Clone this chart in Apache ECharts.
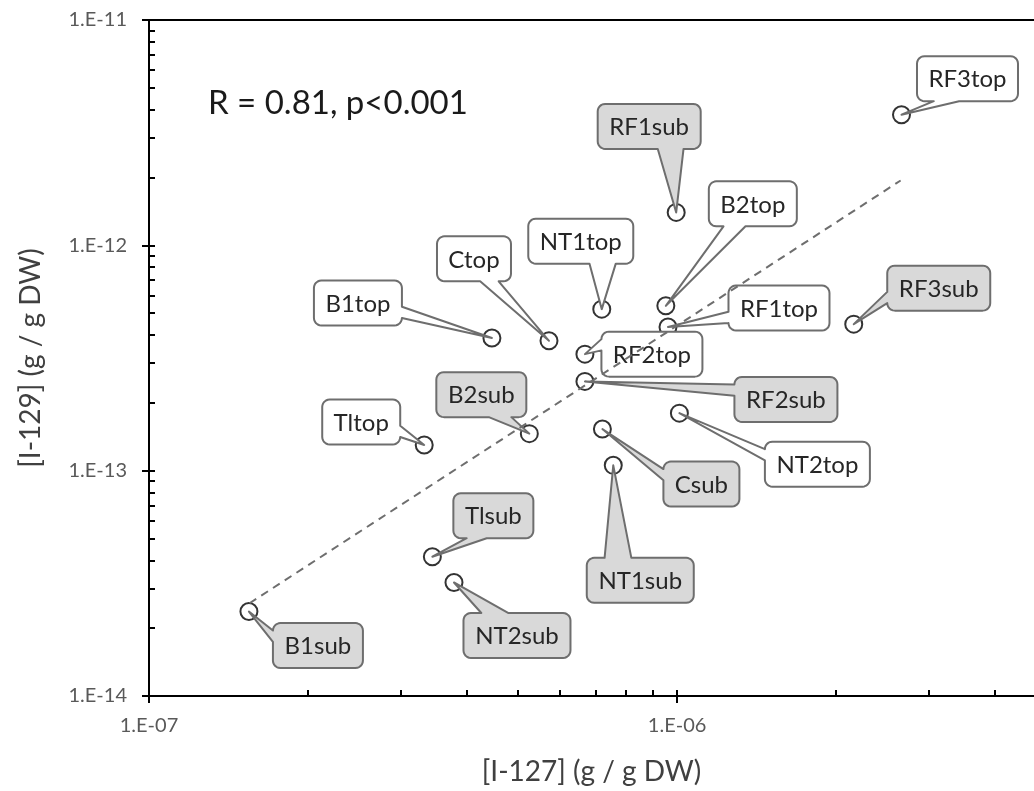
<!DOCTYPE html>
<html>
<head>
<meta charset="utf-8">
<title>I-129 vs I-127</title>
<script src="https://cdn.jsdelivr.net/npm/echarts@6/dist/echarts.min.js"></script>
<style>
  html, body { margin: 0; padding: 0; background: #fff; }
  #chart { width: 1034px; height: 791px; }
</style>
</head>
<body>
<div id="chart"></div>
<script>
// Sample names; "top" and "sub" samples are labelled with white / grey callouts
const sampleNames = ['RF3top', 'RF1sub', 'B2top', 'NT1top', 'Ctop', 'B1top', 'RF1top', 'RF3sub', 'RF2top',
  'B2sub', 'RF2sub', 'Tltop', 'NT2top', 'Csub', 'NT1sub', 'Tlsub', 'NT2sub', 'B1sub'];
// [I-127] in g / g DW
const i127 = [2.66e-6, 9.96e-7, 9.52e-7, 7.20e-7, 5.72e-7, 4.46e-7, 9.61e-7, 2.16e-6, 6.69e-7,
  5.25e-7, 6.69e-7, 3.32e-7, 1.01e-6, 7.22e-7, 7.57e-7, 3.44e-7, 3.78e-7, 1.546e-7];
// [I-129] in g / g DW
const i129 = [3.80e-12, 1.40e-12, 5.39e-13, 5.21e-13, 3.77e-13, 3.88e-13, 4.34e-13, 4.47e-13, 3.29e-13,
  1.46e-13, 2.49e-13, 1.30e-13, 1.80e-13, 1.53e-13, 1.056e-13, 4.15e-14, 3.19e-14, 2.37e-14];
// Power-law trend line end points
const trendX = [1.55e-7, 2.65e-6];
const trendY = [2.58e-14, 1.94e-12];
// Axis ranges and labelled decades
const xRange = [1e-7, 4.74e-6];
const yRange = [1e-14, 1e-11];
const xMajorTicks = [1e-7, 1e-6];
const yMajorTicks = [1e-14, 1e-13, 1e-12, 1e-11];
const statsText = 'R = 0.81, p<0.001';

// Callout placement: box centre relative to its point, in pixels
const calloutOffsets = [[66, -36], [-27, -86], [87, -102], [-21, -68], [-75, -82], [-134, -35],
  [111, -19], [85, -36], [67, 0], [-48, -39], [201, 18], [-63, -23], [138, 51], [99, 55],
  [27, 115], [61, -41], [63, 53], [69, 34]];

const FONT = 'Lato, "Noto Sans", sans-serif';
const LABEL_SIZE = 24;
const PAD_X = 11.5;
const BOX_H = 45;

// ticks at 1..9 x 10^n inside each range
function logTicks(lo, hi) {
  const out = [];
  for (let e = Math.floor(Math.log10(lo)); e <= Math.ceil(Math.log10(hi)); e++) {
    for (let m = 1; m <= 9; m++) {
      const v = m * Math.pow(10, e);
      if (v >= lo * 0.999 && v <= hi * 1.001) out.push(v);
    }
  }
  return out;
}
const xMinorTicks = logTicks(xRange[0], xRange[1]);
const yMinorTicks = logTicks(yRange[0], yRange[1]);

function expLabel(v) {
  const e = Math.round(Math.log10(v));
  return '1.E' + (e < 0 ? '-' : '+') + String(Math.abs(e)).padStart(2, '0');
}

const measureCtx = document.createElement('canvas').getContext('2d');
measureCtx.font = LABEL_SIZE + 'px ' + FONT;
function textWidth(s) { return measureCtx.measureText(s).width; }

// Rounded rectangle with a wedge pointing at (tx, ty), wedge side chosen like a wedge callout
function calloutOutline(l, t, w, h, tx, ty) {
  const r = l + w, b = t + h, rr = Math.min(w, h) * 0.16667;
  const cx = l + w / 2, cy = t + h / 2;
  const dx = tx - cx, dy = ty - cy;
  const dq = dx * h / w;
  const vertical = Math.abs(dy) - Math.abs(dq) > 0;
  const inside = tx > l && tx < r && ty > t && ty < b;
  const xa = l + w * (dx > 0 ? 7 : 2) / 12, xb = l + w * (dx > 0 ? 10 : 5) / 12;
  const ya = t + h * (dy > 0 ? 7 : 2) / 12, yb = t + h * (dy > 0 ? 10 : 5) / 12;
  const side = inside ? null : vertical ? (dy < 0 ? 'top' : 'bottom') : (dx < 0 ? 'left' : 'right');
  const pts = [];
  const arc = (ax, ay, a0, a1) => {
    for (let k = 0; k <= 6; k++) {
      const a = a0 + (a1 - a0) * k / 6;
      pts.push([ax + rr * Math.cos(a), ay + rr * Math.sin(a)]);
    }
  };
  arc(l + rr, t + rr, Math.PI, 1.5 * Math.PI);
  if (side === 'top') pts.push([xa, t], [tx, ty], [xb, t]);
  arc(r - rr, t + rr, 1.5 * Math.PI, 2 * Math.PI);
  if (side === 'right') pts.push([r, ya], [tx, ty], [r, yb]);
  arc(r - rr, b - rr, 0, 0.5 * Math.PI);
  if (side === 'bottom') pts.push([xb, b], [tx, ty], [xa, b]);
  arc(l + rr, b - rr, 0.5 * Math.PI, Math.PI);
  if (side === 'left') pts.push([l, yb], [tx, ty], [l, ya]);
  return pts;
}

function renderCallout(params, api) {
  const i = api.value(2);
  const p = api.coord([api.value(0), api.value(1)]);
  const name = sampleNames[i];
  const isSub = /sub$/.test(name);
  const w = Math.round(textWidth(name) + 2 * PAD_X);
  const h = BOX_H;
  const cx = p[0] + calloutOffsets[i][0];
  const cy = p[1] + calloutOffsets[i][1];
  return {
    type: 'group',
    children: [
      {
        type: 'polygon',
        shape: { points: calloutOutline(cx - w / 2, cy - h / 2, w, h, p[0], p[1]) },
        style: { fill: isSub ? '#d9d9d9' : '#ffffff', stroke: '#6e6e6e', lineWidth: 2, lineJoin: 'round' }
      },
      {
        type: 'text',
        style: {
          text: name, x: cx, y: cy + 1, align: 'center', verticalAlign: 'middle',
          fontSize: LABEL_SIZE, fontFamily: FONT, fill: '#262626'
        }
      }
    ]
  };
}

const axisLineStyle = { color: '#000', width: 2 };
const tickLabelStyle = { fontSize: 20, fontFamily: FONT, color: '#595959' };
const axisNameStyle = { fontSize: 28, fontFamily: FONT, color: '#404040' };

const chart = echarts.init(document.getElementById('chart'), null, { renderer: 'canvas' });
chart.setOption({
  animation: false,
  backgroundColor: '#ffffff',
  title: {
    text: statsText, left: 203, top: 82,
    textStyle: { fontSize: 33, fontWeight: 'normal', fontFamily: FONT, color: '#1a1a1a' }
  },
  grid: { left: 149, right: 0, top: 20, bottom: 93 },
  xAxis: [
    {
      type: 'log', logBase: 10, min: xRange[0], max: xRange[1], position: 'bottom',
      name: '[I-127] (g / g DW)', nameLocation: 'middle', nameGap: 62,
      nameTextStyle: axisNameStyle,
      axisLine: { lineStyle: axisLineStyle },
      axisTick: { customValues: xMajorTicks, length: 7, lineStyle: axisLineStyle },
      axisLabel: { customValues: xMajorTicks, formatter: expLabel, margin: 20, ...tickLabelStyle },
      splitLine: { show: false }, minorTick: { show: false }
    },
    {
      type: 'log', logBase: 10, min: xRange[0], max: xRange[1], position: 'bottom',
      axisLine: { show: false },
      axisTick: { customValues: xMinorTicks, inside: true, length: 6, lineStyle: axisLineStyle },
      axisLabel: { show: false }, splitLine: { show: false }
    },
    {
      type: 'log', logBase: 10, min: xRange[0], max: xRange[1], position: 'top',
      axisLine: { lineStyle: axisLineStyle },
      axisTick: { show: false }, axisLabel: { show: false }, splitLine: { show: false }
    }
  ],
  yAxis: [
    {
      type: 'log', logBase: 10, min: yRange[0], max: yRange[1], position: 'left',
      name: '[I-129] (g / g DW)', nameLocation: 'middle', nameGap: 104,
      nameTextStyle: axisNameStyle,
      axisLine: { lineStyle: axisLineStyle },
      axisTick: { customValues: yMajorTicks, length: 7, lineStyle: axisLineStyle },
      axisLabel: { customValues: yMajorTicks, formatter: expLabel, margin: 22, ...tickLabelStyle },
      splitLine: { show: false }, minorTick: { show: false }
    },
    {
      type: 'log', logBase: 10, min: yRange[0], max: yRange[1], position: 'left',
      axisLine: { show: false },
      axisTick: { customValues: yMinorTicks, inside: true, length: 6, lineStyle: axisLineStyle },
      axisLabel: { show: false }, splitLine: { show: false }
    }
  ],
  series: [
    {
      type: 'scatter', xAxisIndex: 0, yAxisIndex: 0, z: 1,
      data: i127.map((x, i) => [x, i129[i]]),
      symbol: 'circle', symbolSize: 17,
      itemStyle: { color: 'rgba(0,0,0,0)', borderColor: '#000', borderWidth: 2 }
    },
    {
      type: 'custom', xAxisIndex: 0, yAxisIndex: 0, z: 3,
      renderItem: renderCallout,
      data: i127.map((x, i) => [x, i129[i], i])
    },
    {
      type: 'line', xAxisIndex: 0, yAxisIndex: 0, z: 5,
      data: trendX.map((x, i) => [x, trendY[i]]),
      symbol: 'none', silent: true,
      lineStyle: { color: '#6e6e6e', width: 2, type: [8, 6] }
    }
  ]
});
</script>
</body>
</html>
